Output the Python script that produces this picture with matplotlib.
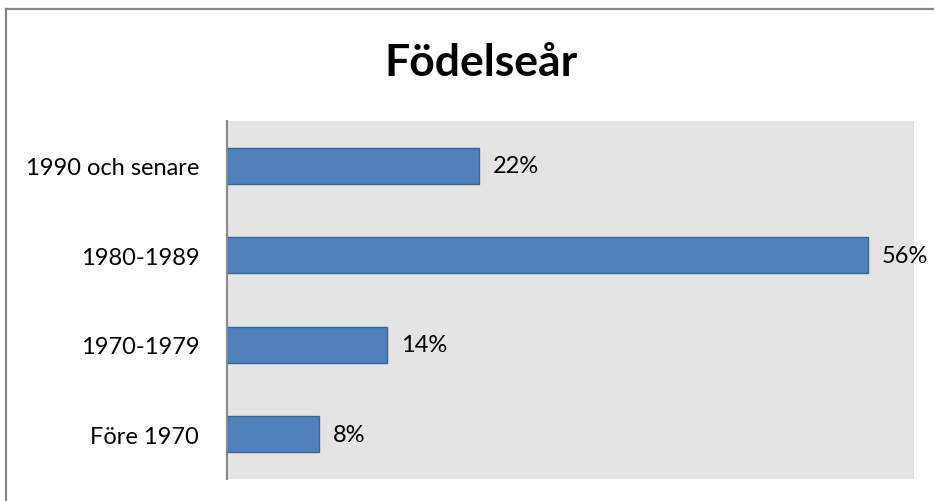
import matplotlib.pyplot as plt
from matplotlib.lines import Line2D

# Data
categories = ['Före 1970', '1970-1979', '1980-1989', '1990 och senare']
shares = [0.08, 0.14, 0.56, 0.22]
value_labels = ['8%', '14%', '56%', '22%']

plt.rcParams['font.family'] = ['Lato', 'DejaVu Sans']

fig = plt.figure(figsize=(9.34, 5.02), dpi=100)

# Chart border (only top and left edges are visible, the image is cropped)
W, H = 934, 502
fig.lines.append(Line2D([5.5 / W, 1.0], [1 - 9.5 / H, 1 - 9.5 / H],
                        transform=fig.transFigure, color='#868686', linewidth=1.6))
fig.lines.append(Line2D([5.5 / W, 5.5 / W], [0.0, 1 - 9.5 / H],
                        transform=fig.transFigure, color='#868686', linewidth=1.6))

ax = fig.add_axes([227 / W, 1 - 480 / H, (914 - 227) / W, (480 - 122) / H])
ax.set_facecolor('#E4E4E4')

pos = range(len(categories))
ax.barh(pos, shares, height=0.4, color='#4F81BD', edgecolor='#3A6396', linewidth=1)

for p, v, lab in zip(pos, shares, value_labels):
    ax.annotate(lab, xy=(v, p), xytext=(10, 0), textcoords='offset points',
                va='center', ha='left', fontsize=17)

ax.set_xlim(0, 0.6)
ax.set_ylim(-0.5, len(categories) - 0.5)
ax.set_yticks(list(pos))
ax.set_yticklabels(categories, fontsize=17)
ax.tick_params(axis='y', length=0, pad=20)
ax.set_xticks([])

for side in ['top', 'right', 'bottom']:
    ax.spines[side].set_visible(False)
ax.spines['left'].set_color('#888888')
ax.spines['left'].set_linewidth(1.5)

fig.text(481 / W, 1 - 63 / H, 'Födelseår', ha='center', va='center',
         fontsize=32, fontweight='bold')

fig.savefig('out.png', dpi=100)
